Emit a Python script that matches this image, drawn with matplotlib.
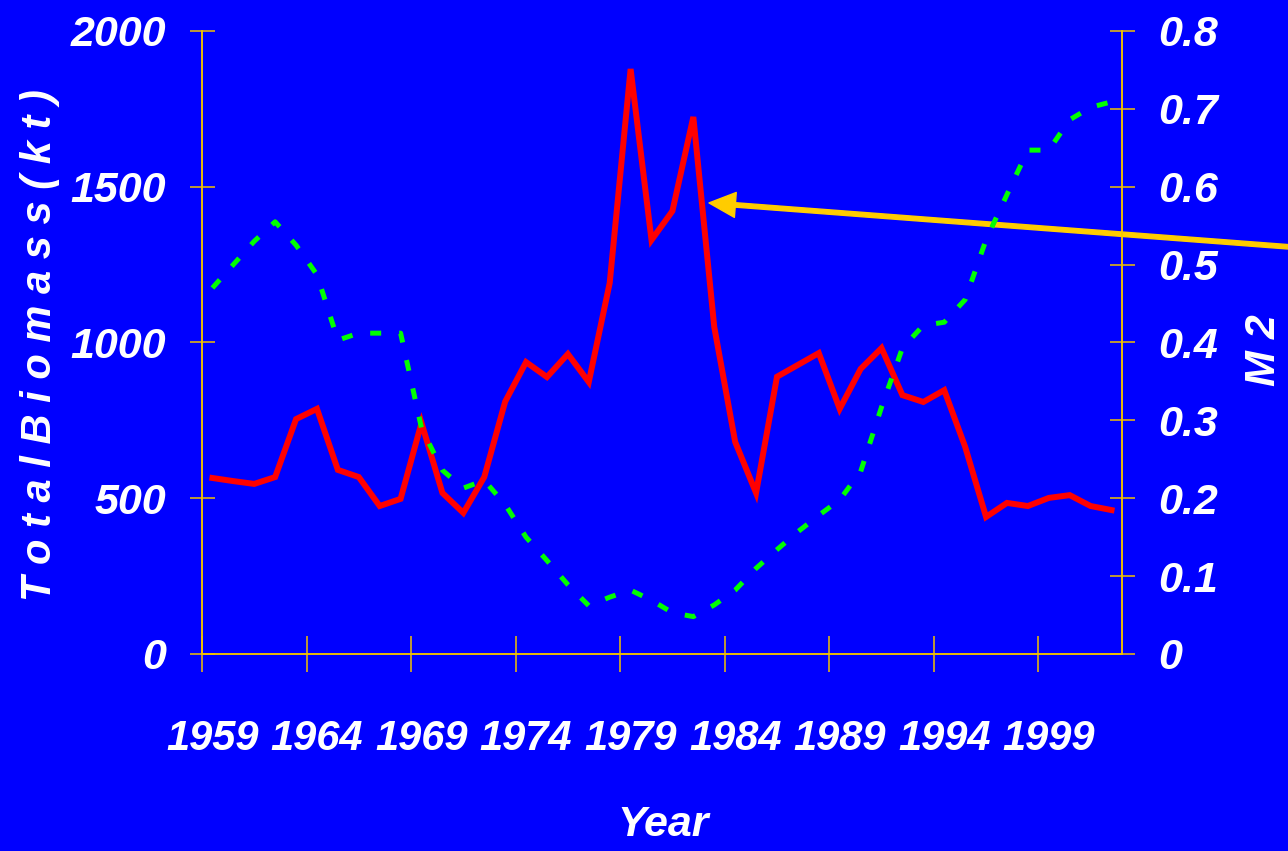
import matplotlib
matplotlib.use('Agg')
import matplotlib.pyplot as plt
import numpy as np

# data
years = list(range(1959, 2003))
biomass = [565, 555, 546, 568, 754, 787, 591, 568, 475, 498,
           742, 517, 453, 568, 810, 937, 889, 963, 873, 1191,
           1878, 1329, 1422, 1724, 1050, 681, 517, 890, 928, 966,
           787, 915, 982, 831, 809, 847, 665, 440, 485, 475,
           501, 510, 475, 462]
m2 = [0.470, 0.500, 0.530, 0.555, 0.525, 0.487, 0.403, 0.412, 0.412, 0.412,
      0.290, 0.236, 0.213, 0.223, 0.192, 0.150, 0.120, 0.089, 0.062, 0.073,
      0.082, 0.069, 0.053, 0.048, 0.063, 0.082, 0.110, 0.134, 0.157, 0.178,
      0.198, 0.234, 0.317, 0.393, 0.422, 0.426, 0.455, 0.532, 0.590, 0.647,
      0.647, 0.686, 0.702, 0.709]
left_ticks = [0, 500, 1000, 1500, 2000]
right_ticks = [0, 0.1, 0.2, 0.3, 0.4, 0.5, 0.6, 0.7, 0.8]
right_labels = ['0', '0.1', '0.2', '0.3', '0.4', '0.5', '0.6', '0.7', '0.8']
year_labels = [1959, 1964, 1969, 1974, 1979, 1984, 1989, 1994, 1999]

bg = '#0000FF'
axcol = '#F2C200'
font = dict(family='Liberation Sans', weight='bold', style='italic', color='white')

fig = plt.figure(figsize=(12.88, 8.51), dpi=100, facecolor=bg)
ax = fig.add_axes([0.1568, 0.2315, 0.7143, 0.7321])
ax.set_facecolor(bg)
ax2 = ax.twinx()

ax.plot(years, biomass, color='#FF0000', lw=4.3, solid_joinstyle='miter', zorder=3)
ax2.plot(years, m2, color='#00FF00', lw=3.6, linestyle=(0, (2.2, 3.6)), zorder=2)

ax.set_xlim(1958.5, 2002.5)
ax.set_ylim(0, 2000)
ax2.set_ylim(0, 0.8)

for a in (ax, ax2):
    for s in a.spines.values():
        s.set_color(axcol)
        s.set_linewidth(1.1)
    a.spines['top'].set_visible(False)

# ticks at category boundaries, labels at the years
ax.set_xticks([y - 0.5 for y in year_labels])
ax.set_xticklabels([])
ax.set_xticks(year_labels, minor=True)
ax.set_xticklabels([str(y) for y in year_labels], minor=True, fontsize=30, **font)
ax.tick_params(axis='x', which='major', direction='inout', length=26, width=1.1, color=axcol)
ax.tick_params(axis='x', which='minor', length=0, pad=47)

ax.set_yticks(left_ticks)
ax.set_yticklabels([str(v) for v in left_ticks], fontsize=31, **font)
ax.tick_params(axis='y', direction='inout', length=18, width=1.1, color=axcol, pad=17)

ax2.set_yticks(right_ticks)
ax2.set_yticklabels(right_labels, fontsize=31, **font)
ax2.tick_params(axis='y', direction='inout', length=18, width=1.1, color=axcol, pad=17)

fig.text(0.031, 0.595, 'T o t a l B i o m a s s ( k t )', rotation=90,
         ha='center', va='center', fontsize=30, **font)
fig.text(0.981, 0.589, 'M 2', rotation=90, ha='center', va='center', fontsize=31, **font)
fig.text(0.515, 0.03, 'Year', ha='center', va='center', fontsize=31, **font)

ax.annotate('', xy=(1982.75, 1448), xycoords='data',
            xytext=(1.0, 0.71), textcoords='figure fraction',
            arrowprops=dict(facecolor='#FFCC00', edgecolor='#FFCC00',
                            width=3.2, headwidth=18, headlength=19, shrink=0),
            annotation_clip=False, zorder=5)

fig.savefig('out.png', dpi=100, facecolor=bg)
